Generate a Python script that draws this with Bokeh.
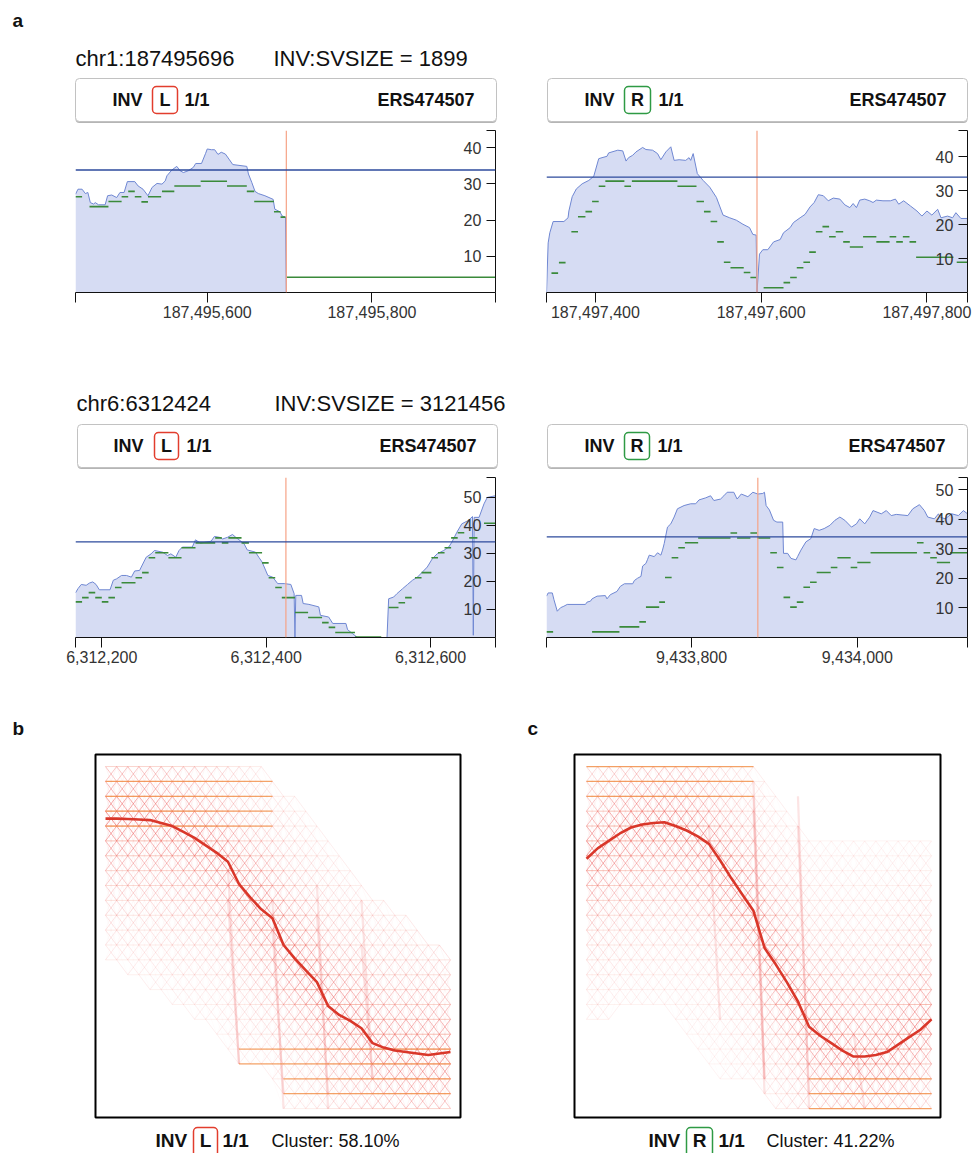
import math
from bokeh.plotting import figure
from bokeh.models import (Range1d, FixedTicker, NumeralTickFormatter, LinearAxis, Label,
                          BoxAnnotation, Spacer, ColumnDataSource, Span)
from bokeh.layouts import column, row
from bokeh.embed import file_html
from bokeh.resources import INLINE

FONT = "Liberation Sans"

# ------------------------------------------------------------------ data (panel a)
bp_chr1_left = 187495696
svsize_chr1 = 1899
bp_chr1_right = bp_chr1_left + svsize_chr1
bp_chr6_left = 6312424
svsize_chr6 = 3121456
bp_chr6_right = bp_chr6_left + svsize_chr6

# windows (offset from breakpoint)
win1 = (-256, 254)
win2 = (-254, 254)
win3 = (-256, 255)
win4 = (-255, 253)

ytop1, ytop2, ytop3, ytop4 = 44.7, 47.7, 57.0, 54.2
mean_cov = [33.8, 34.0, 34.1, 34.1]

xticks1 = [187495600, 187495800]
xticks2 = [187497400, 187497600, 187497800]
xticks3 = [6312200, 6312400, 6312600]
xticks4 = [9433800, 9434000]
yticks_a = [10, 20, 30, 40]
yticks_b = [10, 20, 30, 40, 50]

cov1_off = [-256,-253,-248,-244,-241,-238,-234,-232,-228,-220,-217,-212,-206,-202,-197,-193,-184,-180,-174,-168,
            -163,-157,-151,-147,-145,-139,-133,-129,-125,-119,-113,-110,-103,-98,-96,-91,-87,-83,-79,-74,
            -69,-65,-48,-46,-42,-38,-34,-26,-16,-14,-8,-5,-1,0,254]
cov1_val = [27.1,28.5,28.5,27.3,27.6,24.8,24.4,24.8,24.2,24.2,26.7,26.9,26.2,27.6,27.6,30.6,30.6,29.4,28.5,26.7,
            29.0,30.1,29.9,30.8,32.2,33.8,34.8,33.6,33.1,33.6,34.5,35.6,35.6,38.4,39.6,39.4,39.4,38.1,38.7,38.2,
            36.6,35.3,34.8,32.7,30.4,27.9,27.3,26.7,25.7,23.0,22.3,21.1,20.8,0,0]
dash1_start = [-256,-239,-216,-200,-192,-184,-176,-168,-151,-136,-104,-72,-48,-39,-15,-7,0]
dash1_end = [-248,-216,-200,-192,-184,-176,-168,-152,-136,-104,-72,-48,-39,-15,-7,-1,254]
dash1_val = [26.4,23.7,25.1,26.4,27.9,26.4,25.0,26.4,27.9,29.4,30.7,29.4,27.9,25.1,22.3,20.8,4.2]

cov2_off = [-254,-252,-250,-246,-233,-228,-227,-223,-218,-211,-203,-197,-191,-187,-181,-179,-168,-162,-158,-155,
            -150,-146,-138,-134,-126,-120,-116,-110,-104,-100,-94,-86,-82,-80,-77,-72,-65,-57,-49,-41,
            -33,-25,-17,-9,-5,-1,0,3,7,13,20,28,32,40,44,52,58,64,69,74,
            80,86,92,100,106,112,116,120,124,130,136,140,144,152,161,167,171,177,185,193,
            199,205,211,218,222,230,236,240,246,254]
cov2_val = [0,14.6,17.6,20.9,20.9,22.0,24.0,28.2,30.5,32.0,33.0,34.2,39.4,39.7,40.1,41.1,41.9,41.7,38.7,39.7,
            40.4,41.4,42.7,42.1,41.9,40.9,39.1,41.4,42.9,38.9,39.1,38.9,39.7,38.9,40.9,35.0,33.0,31.0,28.0,22.8,
            22.0,21.3,20.1,19.1,17.1,16.9,0,11.3,12.6,12.6,14.9,15.6,17.6,19.1,20.6,22.0,23.0,25.2,26.5,28.8,
            28.5,27.0,27.8,27.5,25.8,25.0,26.2,25.0,27.2,27.5,27.0,26.5,27.2,27.0,27.0,27.5,26.0,27.0,25.5,24.0,
            22.5,24.0,22.8,24.5,22.0,22.5,22.0,23.5,21.8,21.8]
dash2_start = [-248,-239,-224,-216,-207,-199,-191,-183,-160,-151,-96,-73,-64,-56,-48,-40,-32,-16,-8,8,
               32,40,48,56,63,71,79,87,95,104,112,128,144,160,168,176,184,192,241]
dash2_end = [-240,-231,-216,-207,-199,-191,-183,-160,-152,-96,-73,-64,-56,-48,-40,-32,-16,-8,-1,32,
             40,48,56,64,71,79,87,95,104,112,128,144,160,168,176,184,192,237,254]
dash2_val = [5.7,8.8,17.9,22.3,23.8,26.8,31.3,32.8,31.3,32.8,31.3,26.8,23.8,20.9,14.9,8.9,7.3,5.9,4.4,1.4,
             2.9,4.4,7.3,8.9,11.9,17.9,19.4,16.4,17.9,14.9,13.4,16.4,14.9,16.4,14.9,16.4,14.9,10.4,8.9]

cov3_off = [-256,-253,-249,-243,-239,-235,-231,-227,-214,-210,-206,-200,-194,-188,-184,-178,-176,-170,-164,-160,
            -150,-144,-140,-134,-130,-126,-114,-110,-104,-97,-91,-87,-81,-77,-71,-65,-61,-57,-51,-47,
            -37,-33,-29,-22,-16,-10,-2,6,10,11,12,19,21,28,40,42,52,57,73,75,
            81,87,123,125,131,135,142,148,154,160,166,172,178,184,192,198,202,208,214,222,
            227,228,229,235,241,245,255]
cov3_val = [15.9,17.4,18.9,18.6,19.4,19.8,18.9,17.0,17.0,20.4,20.9,22.1,22.1,21.5,23.7,23.9,25.1,28.6,29.8,31.0,
            30.4,29.2,29.8,28.6,31.0,32.2,32.2,34.8,33.6,34.0,34.3,36.0,35.7,35.1,35.7,36.7,35.7,34.8,33.4,31.2,
            30.4,28.6,26.9,22.1,21.5,19.2,19.2,18.9,15.6,0,15.0,15.0,12.1,11.8,10.9,7.9,7.3,5.0,5.0,2.8,
            1.4,0,0,13.8,14.4,15.6,17.4,18.9,20.4,21.5,23.3,25.1,28.0,29.8,31.0,32.2,34.0,37.5,40.5,41.7,
            43.1,0.8,42.8,42.8,47.6,49.9,50.5]
dash3_start = [-256,-248,-240,-232,-224,-216,-208,-200,-183,-175,-167,-159,-143,-127,-110,-86,-78,-70,-54,-45,
               -29,-21,-13,-5,11,27,44,52,60,84,125,137,145,157,165,177,185,193,201,209,223,241]
dash3_end = [-248,-240,-232,-224,-216,-208,-200,-183,-175,-167,-159,-143,-127,-110,-86,-78,-70,-54,-45,-29,
             -21,-13,-5,11,27,44,52,60,84,116,137,145,153,165,177,185,193,201,209,217,233,255]
dash3_val = [12.7,14.2,16.0,14.2,12.7,14.2,17.8,19.5,21.3,23.1,28.4,30.2,28.4,32.0,33.7,35.5,33.7,35.5,33.7,30.2,
             26.6,21.3,17.8,14.2,8.9,7.1,5.3,3.6,1.8,0.2,10.7,12.4,14.2,21.3,23.1,28.4,30.2,32.0,35.5,37.3,35.5,40.7]

cov4_off = [-255,-253,-248,-246,-242,-238,-234,-230,-208,-206,-202,-200,-194,-184,-182,-178,-170,-166,-161,-151,
            -149,-145,-141,-139,-135,-133,-131,-125,-121,-117,-115,-113,-109,-105,-101,-97,-89,-81,-75,-71,
            -63,-57,-53,-45,-41,-37,-29,-25,-20,-12,-6,0,6,8,10,14,19,23,30,31,
            36,40,46,48,52,58,64,68,74,80,87,93,99,105,113,119,123,129,135,139,
            149,155,161,167,181,187,195,201,205,213,218,220,226,234,242,248,253]
cov4_val = [14.0,15.1,15.1,12.8,8.9,10.1,10.6,11.2,11.2,12.0,12.3,13.1,14.0,14.2,13.1,14.5,15.6,17.3,18.2,18.2,
            19.3,20.1,20.7,24.2,25.1,26.5,27.9,27.4,28.7,27.9,29.6,31.8,37.4,38.5,40.8,43.6,44.7,45.3,45.3,46.6,
            47.3,48.0,46.4,46.9,48.0,49.2,49.2,46.9,48.6,47.7,49.2,48.6,48.8,49.2,44.7,43.2,39.7,39.1,39.1,28.5,
            28.5,26.8,26.3,27.4,29.6,32.4,33.5,36.9,36.3,36.9,38.0,39.7,40.8,39.7,37.4,38.5,40.2,38.5,40.8,43.0,
            41.9,43.0,41.3,41.7,41.3,43.6,45.0,43.0,40.8,40.2,41.9,40.8,40.2,41.9,41.3,43.0,41.9]
dash4_start = [-255,-200,-167,-143,-135,-119,-112,-104,-96,-88,-72,-33,-25,-9,-1,15,23,31,39,47,
               55,63,71,88,96,112,120,136,192,200,208,216,232]
dash4_end = [-247,-167,-143,-135,-119,-112,-104,-96,-88,-72,-33,-25,-9,-1,15,23,31,39,47,55,
             63,71,88,96,112,120,136,192,200,208,216,232,253]
dash4_val = [1.9,1.9,3.6,5.3,10.3,12.0,20.3,27.0,30.4,32.1,33.7,35.4,33.7,35.4,33.7,28.7,23.7,13.6,10.3,12.0,
             17.0,18.7,22.0,23.7,27.0,23.7,25.4,28.7,32.1,28.7,27.0,25.4,28.7]

# ------------------------------------------------------------------ data (panels b, c)
n_cols = 32
n_levels = 24
mean_b = [3.5,3.5,3.53,3.56,3.6,3.8,4.0,4.4,4.8,5.3,5.8,6.4,7.9,8.8,9.6,10.2,
          12.0,12.9,13.7,14.5,16.1,16.7,17.1,17.6,18.6,18.9,19.1,19.2,19.3,19.4,19.3,19.2]
mean_c = [6.2,5.5,5.0,4.5,4.1,3.9,3.8,3.75,4.0,4.3,4.7,5.2,6.3,7.5,8.6,9.7,
          12.2,13.3,14.5,15.8,17.5,18.1,18.6,19.1,19.5,19.5,19.4,19.2,18.7,18.2,17.7,17.0]
top_b = [0,0,0,0,0,0,0,0,0,0,0,0,0,0,0,1,2,2,3,4,5,6,7,8,9,9,10,10,11,12,12,13]
bot_b = [13,13,14,14,15,15,16,16,17,17,18,19,20,20,20,21,23,23,23,23,23,23,23,23,23,23,23,23,23,23,23,23]
top_c = [0,0,0,0,0,0,0,0,0,0,0,0,0,0,0,0,1,2,3,4,5,5,5,5,5,5,5,5,5,5,5,5]
bot_c = [17,17,17,16,16,16,16,16,17,18,19,20,21,21,21,21,22,23,23,23,23,23,23,23,23,23,23,23,23,23,23,23]
orange_b_level = [1, 2, 3, 4, 19, 20, 21, 22]
orange_b_from = [0, 0, 0, 0, 12, 12, 16, 16]
orange_b_to = [15, 15, 15, 15, 31, 31, 31, 31]
orange_c_level = [0, 1, 2, 21, 22, 23]
orange_c_from = [0, 0, 0, 20, 20, 20]
orange_c_to = [15, 15, 15, 31, 31, 31]
jump_b_col = [11, 11, 15, 15, 19, 19, 23, 23]
jump_b_from = [7, 9, 9, 11, 8, 10, 9, 12]
jump_b_to = [20, 20, 23, 22, 23, 22, 21, 21]
jump_c_col = [11, 15, 15, 15, 19, 19, 24]
jump_c_from = [4, 1, 2, 3, 2, 4, 18]
jump_c_to = [17, 21, 21, 22, 23, 22, 23]

cluster_b = "Cluster: 58.10%"
cluster_c = "Cluster: 41.22%"

# ------------------------------------------------------------------ helpers
PAGE_W = 974


def strip(y0, y1):
    p = figure(width=PAGE_W, height=y1 - y0,
               x_range=Range1d(0, PAGE_W), y_range=Range1d(y1, y0),
               x_axis_type=None, y_axis_type=None, min_border=0,
               outline_line_color=None, output_backend="svg", toolbar_location=None)
    return p


def txt(p, x, y, s, size="18px", bold=False, align="left", color="#111111"):
    p.add_layout(Label(x=x, y=y, text=s, text_font=FONT, text_font_size=size,
                       text_font_style="bold" if bold else "normal",
                       text_align=align, text_baseline="middle", text_color=color))


def tagbox(p, l, r, t, b, color, lw=1.5):
    p.add_layout(BoxAnnotation(left=l, right=r, top=t, bottom=b, fill_alpha=0,
                               line_color=color, line_alpha=1, line_width=lw, border_radius=4))


def header(p, l, r, t, b, inv_x, tag, tag_l, tag_r, tag_color, one_x, ers_r):
    p.add_layout(BoxAnnotation(left=l, right=r, top=t + 2, bottom=b + 1.5, fill_color="#b5b5b5",
                               fill_alpha=1, line_alpha=0, border_radius=4))
    p.add_layout(BoxAnnotation(left=l, right=r, top=t, bottom=b, fill_color="white", fill_alpha=1,
                               line_color="#c2c2c2", line_alpha=1, line_width=1, border_radius=4))
    ym = (t + b) / 2
    tagbox(p, tag_l, tag_r, ym - 13.5, ym + 13.5, tag_color)
    txt(p, inv_x, ym, "INV", "18px", True)
    txt(p, (tag_l + tag_r) / 2, ym, tag, "18px", True, "center")
    txt(p, one_x, ym, "1/1", "18px", True)
    txt(p, ers_r, ym, "ERS474507", "18px", True, "right")


def cov_fig(bp, win, ytop, off, val, d0, d1, dv, mline, xticks, yticks, bl, fw, br, fh):
    x0, x1 = bp + win[0], bp + win[1]
    xs = [bp + o for o in off]
    p = figure(width=bl + fw + br, height=4 + fh + 38,
               x_range=Range1d(x0, x1), y_range=Range1d(0, ytop),
               x_axis_type=None, y_axis_type=None,
               min_border_left=bl, min_border_right=br, min_border_top=4, min_border_bottom=38,
               outline_line_color=None, output_backend="svg", toolbar_location=None)
    p.varea(x=xs, y1=[0] * len(xs), y2=val, fill_color="#d6dcf3", fill_alpha=1)
    p.line(xs, val, line_color="#6f87d2", line_width=1)
    p.segment(x0=[bp + v for v in d0], y0=dv, x1=[bp + v for v in d1], y1=dv,
              line_color="#3a8a3a", line_width=1.6)
    p.add_layout(Span(location=bp, dimension="height", line_color="#f6a386", line_width=1.2))
    p.add_layout(Span(location=mline, dimension="width", line_color="#2c4a9c", line_width=1.3))
    xa = LinearAxis(ticker=FixedTicker(ticks=xticks, minor_ticks=[x0, x1]),
                    formatter=NumeralTickFormatter(format="0,0"),
                    major_tick_out=10, major_tick_in=0, minor_tick_out=10, minor_tick_in=0,
                    axis_line_color="#111111", major_tick_line_color="#111111",
                    minor_tick_line_color="#111111",
                    major_label_text_font=FONT, major_label_text_font_size="16px",
                    major_label_text_color="#333333", major_label_standoff=3)
    p.add_layout(xa, "below")
    ya = LinearAxis(ticker=FixedTicker(ticks=yticks, minor_ticks=[ytop]),
                    major_tick_out=0, major_tick_in=9, minor_tick_out=0, minor_tick_in=9,
                    axis_line_color="#111111", major_tick_line_color="#111111",
                    minor_tick_line_color="#111111",
                    major_label_text_font=FONT, major_label_text_font_size="16px",
                    major_label_text_color="#333333", major_label_standoff=-32)
    p.add_layout(ya, "right")
    return p


def heat_fig(mean, top, bot, olv, ofr, oto, jc, jf, jt, xr, width):
    p = figure(width=width, height=367, x_range=Range1d(*xr), y_range=Range1d(23.6, -0.81),
               x_axis_type=None, y_axis_type=None, min_border=2,
               outline_line_color="black", outline_line_width=2,
               output_backend="svg", toolbar_location=None)
    hx0, hy0, hx1, hy1, ha = [], [], [], [], []
    dx0, dy0, dx1, dy1, da = [], [], [], [], []
    for c in range(n_cols - 1):
        for lv in range(n_levels):
            for d in (-2, -1, 0, 1, 2):
                l2 = lv + d
                if l2 < 0 or l2 >= n_levels:
                    continue
                if not (top[c] <= lv <= bot[c] and top[c + 1] <= l2 <= bot[c + 1]):
                    continue
                dist = abs((lv + l2) / 2 - (mean[c] + mean[c + 1]) / 2)
                a = 0.05 + 0.55 * math.exp(-dist / 4.5)
                if d == 0:
                    hx0.append(c); hy0.append(lv); hx1.append(c + 1); hy1.append(l2); ha.append(a)
                else:
                    if abs(d) == 2:
                        a *= 0.18
                    dx0.append(c); dy0.append(lv); dx1.append(c + 1); dy1.append(l2); da.append(a)
    dsrc = ColumnDataSource(dict(x0=dx0, y0=dy0, x1=dx1, y1=dy1, a=da))
    p.segment(x0="x0", y0="y0", x1="x1", y1="y1", line_alpha="a", line_color="#ec5656",
              line_width=1, source=dsrc)
    hsrc = ColumnDataSource(dict(x0=hx0, y0=hy0, x1=hx1, y1=hy1, a=ha))
    p.segment(x0="x0", y0="y0", x1="x1", y1="y1", line_alpha="a", line_color="#ef7058",
              line_width=1, source=hsrc)
    p.segment(x0=jc, y0=jf, x1=[c + 1 for c in jc], y1=jt, line_color="#ec5656",
              line_alpha=0.16, line_width=2.2)
    p.segment(x0=ofr, y0=olv, x1=oto, y1=olv, line_color="#f08a3c", line_alpha=0.75, line_width=1.3)
    p.line(list(range(n_cols)), mean, line_color="#d9372a", line_width=2.6)
    return p


# ------------------------------------------------------------------ strips
sA = strip(0, 126)
txt(sA, 12, 20, "a", "19px", True)
txt(sA, 75, 58, "chr1:187495696", "22px")
txt(sA, 273, 58, "INV:SVSIZE = 1899", "22px")
header(sA, 75, 496, 78, 121, 112, "L", 152, 177, "#e23d2d", 184, 474)
header(sA, 547, 967, 78, 121, 584, "R", 624, 650, "#2e9a44", 658, 946)

sB = strip(330, 473)
txt(sB, 76, 403, "chr6:6312424", "22px")
txt(sB, 274, 403, "INV:SVSIZE = 3121456", "22px")
header(sB, 77, 497, 424, 467, 113, "L", 154, 178, "#e23d2d", 186, 476)
header(sB, 547, 967, 424, 467, 584, "R", 624, 649, "#2e9a44", 657, 945)

sC = strip(675, 752)
txt(sC, 12, 728, "b", "19px", True)
txt(sC, 527, 728, "c", "19px", True)

sD = strip(1119, 1153)
tagbox(sD, 193, 217, 1127, 1156, "#e23d2d")
txt(sD, 155, 1140, "INV", "19px", True)
txt(sD, 205, 1140, "L", "19px", True, "center")
txt(sD, 222, 1140, "1/1", "19px", True)
txt(sD, 271, 1140, cluster_b, "18px")
tagbox(sD, 686, 712, 1127, 1156, "#2e9a44")
txt(sD, 648, 1140, "INV", "19px", True)
txt(sD, 699, 1140, "R", "19px", True, "center")
txt(sD, 718, 1140, "1/1", "19px", True)
txt(sD, 766, 1140, cluster_c, "18px")

# ------------------------------------------------------------------ coverage plots
f1 = cov_fig(bp_chr1_left, win1, ytop1, cov1_off, cov1_val, dash1_start, dash1_end, dash1_val,
             mean_cov[0], xticks1, yticks_a, 20, 420, 2, 162)
f2 = cov_fig(bp_chr1_right, win2, ytop2, cov2_off, cov2_val, dash2_start, dash2_end, dash2_val,
             mean_cov[1], xticks2, yticks_a, 24, 421, 7, 162)
f3 = cov_fig(bp_chr6_left, win3, ytop3, cov3_off, cov3_val, dash3_start, dash3_end, dash3_val,
             mean_cov[2], xticks3, yticks_b, 20, 420, 2, 160)
f4 = cov_fig(bp_chr6_right, win4, ytop4, cov4_off, cov4_val, dash4_start, dash4_end, dash4_val,
             mean_cov[3], xticks4, yticks_b, 24, 421, 7, 160)

fb = heat_fig(mean_b, top_b, bot_b, orange_b_level, orange_b_from, orange_b_to,
              jump_b_col, jump_b_from, jump_b_to, (-0.9, 31.9), 369)
fc = heat_fig(mean_c, top_c, bot_c, orange_c_level, orange_c_from, orange_c_to,
              jump_c_col, jump_c_from, jump_c_to, (-1.08, 31.81), 370)

layout = column(
    sA,
    row(Spacer(width=55, height=204), f1, Spacer(width=25, height=204), f2),
    sB,
    row(Spacer(width=55, height=202), f3, Spacer(width=25, height=202), f4),
    sC,
    row(Spacer(width=93, height=367), fb, Spacer(width=110, height=367), fc, Spacer(width=32, height=367)),
    sD,
)

open("out.html", "w").write(file_html(layout, INLINE))
